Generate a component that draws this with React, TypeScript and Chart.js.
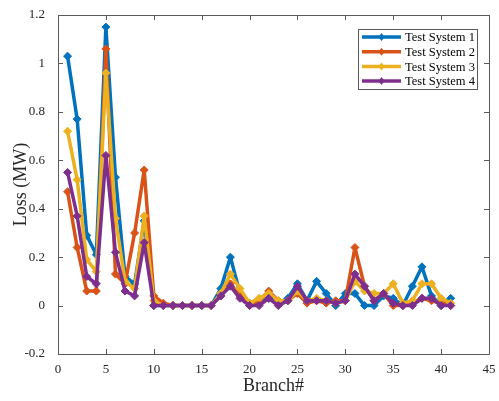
import React, { useEffect, useRef } from "react";
import { Chart, registerables } from "chart.js";

Chart.register(...registerables);

const branches = Array.from({ length: 41 }, (_, i) => i + 1);

const seriesNames = ["Test System 1", "Test System 2", "Test System 3", "Test System 4"];
const seriesColors = ["#0072BD", "#D95319", "#EDB120", "#7E2F8E"];

const system1 = [1.03, 0.77, 0.29, 0.21, 1.15, 0.53, 0.12, 0.09, 0.35, 0.0, 0, 0, 0, 0, 0, 0, 0.07, 0.2, 0.05, 0.01, 0.01, 0.03, 0.01, 0.03, 0.09, 0.02, 0.1, 0.05, 0.0, 0.05, 0.05, 0.0, 0.0, 0.04, 0.03, 0.0, 0.08, 0.16, 0.04, 0.0, 0.03];
const system2 = [0.47, 0.24, 0.06, 0.06, 1.06, 0.13, 0.09, 0.3, 0.56, 0.04, 0.01, 0, 0, 0, 0, 0, 0.04, 0.09, 0.04, 0.0, 0.02, 0.06, 0.02, 0.02, 0.05, 0.01, 0.02, 0.01, 0.02, 0.02, 0.24, 0.08, 0.02, 0.05, 0.0, 0.0, 0.01, 0.03, 0.02, 0.01, 0.0];
const system3 = [0.72, 0.52, 0.19, 0.14, 0.96, 0.36, 0.1, 0.07, 0.37, 0.02, 0, 0, 0, 0, 0, 0, 0.05, 0.13, 0.07, 0.01, 0.03, 0.05, 0.02, 0.02, 0.06, 0.02, 0.03, 0.02, 0.01, 0.02, 0.1, 0.06, 0.05, 0.05, 0.09, 0.01, 0.02, 0.09, 0.09, 0.03, 0.01];
const system4 = [0.55, 0.37, 0.12, 0.09, 0.62, 0.22, 0.06, 0.04, 0.26, 0.0, 0, 0, 0, 0, 0, 0, 0.04, 0.08, 0.03, 0.0, 0.0, 0.03, 0.0, 0.02, 0.08, 0.02, 0.02, 0.02, 0.01, 0.02, 0.13, 0.08, 0.02, 0.05, 0.01, 0.0, 0.0, 0.03, 0.03, 0.0, 0.0];

const allSeries = [system1, system2, system3, system4];

const xTicks = [0, 5, 10, 15, 20, 25, 30, 35, 40, 45];
const yTicks = [-0.2, 0, 0.2, 0.4, 0.6, 0.8, 1, 1.2];

const FONT = "'Times New Roman', 'Liberation Serif', serif";
const AXIS_COLOR = "#262626";

const boxPlugin = {
  id: "matlabBox",
  afterDraw(chart: any) {
    const { ctx, chartArea } = chart;
    const { left, right, top, bottom } = chartArea;
    const xs = chart.scales.x;
    const ys = chart.scales.y;
    ctx.save();
    ctx.strokeStyle = "#5a5a5a";
    ctx.lineWidth = 1;
    ctx.beginPath();
    ctx.rect(Math.round(left) + 0.5, Math.round(top) + 0.5, Math.round(right - left), Math.round(bottom - top));
    ctx.stroke();
    const tl = 5;
    ctx.beginPath();
    xTicks.forEach((t) => {
      const px = Math.round(xs.getPixelForValue(t)) + 0.5;
      ctx.moveTo(px, bottom);
      ctx.lineTo(px, bottom - tl);
      ctx.moveTo(px, top);
      ctx.lineTo(px, top + tl);
    });
    yTicks.forEach((t) => {
      const py = Math.round(ys.getPixelForValue(t)) + 0.5;
      ctx.moveTo(left, py);
      ctx.lineTo(left + tl, py);
      ctx.moveTo(right, py);
      ctx.lineTo(right - tl, py);
    });
    ctx.stroke();

    // legend
    const lx = 358, ly = 29, lw = 119, lh = 60;
    ctx.fillStyle = "#ffffff";
    ctx.fillRect(lx, ly, lw, lh);
    ctx.strokeStyle = "#5a5a5a";
    ctx.strokeRect(lx + 0.5, ly + 0.5, lw, lh);
    ctx.font = `12.5px ${FONT}`;
    ctx.textBaseline = "middle";
    ctx.textAlign = "left";
    chart.data.datasets.forEach((ds: any, i: number) => {
      const y = ly + 8 + i * 14.7;
      ctx.strokeStyle = ds.borderColor;
      ctx.lineWidth = 3.5;
      ctx.beginPath();
      ctx.moveTo(lx + 4, y);
      ctx.lineTo(lx + 43, y);
      ctx.stroke();
      const cx = lx + 23.5;
      ctx.fillStyle = ds.borderColor;
      ctx.beginPath();
      ctx.moveTo(cx, y - 4);
      ctx.lineTo(cx + 3, y);
      ctx.lineTo(cx, y + 4);
      ctx.lineTo(cx - 3, y);
      ctx.closePath();
      ctx.fill();
      ctx.fillStyle = "#000000";
      ctx.fillText(ds.label, lx + 47, y + 1);
    });
    ctx.restore();
  },
};

export default function App() {
  const ref = useRef<HTMLCanvasElement>(null);
  useEffect(() => {
    if (!ref.current) return;
    const chart = new Chart(ref.current, {
      type: "line",
      data: {
        datasets: allSeries.map((vals, i) => ({
          label: seriesNames[i],
          data: branches.map((b, j) => ({ x: b, y: vals[j] })),
          borderColor: seriesColors[i],
          backgroundColor: seriesColors[i],
          borderWidth: 3.5,
          borderJoinStyle: "round",
          pointStyle: "rectRot",
          pointRadius: 4,
          pointBorderWidth: 1,
          tension: 0,
          fill: false,
          order: 4 - i,
        })),
      },
      options: {
        responsive: false,
        animation: false,
        layout: { padding: { top: 15, right: 10, left: 0, bottom: 0 } },
        plugins: { legend: { display: false }, tooltip: { enabled: false } },
        scales: {
          x: {
            type: "linear",
            min: 0,
            max: 45,
            afterBuildTicks: (s: any) => {
              s.ticks = xTicks.map((v) => ({ value: v }));
            },
            afterFit: (s: any) => {
              s.height = 47;
            },
            grid: { display: false },
            border: { display: false },
            ticks: { color: AXIS_COLOR, font: { family: FONT, size: 13 }, padding: 0, maxRotation: 0 },
            title: {
              display: true,
              text: "Branch#",
              color: AXIS_COLOR,
              font: { family: FONT, size: 18 },
              padding: { top: 0, bottom: 4 },
            },
          },
          y: {
            type: "linear",
            min: -0.2,
            max: 1.2,
            afterBuildTicks: (s: any) => {
              s.ticks = yTicks.map((v) => ({ value: v }));
            },
            afterFit: (s: any) => {
              s.width = 58;
            },
            grid: { display: false },
            border: { display: false },
            ticks: {
              color: AXIS_COLOR,
              font: { family: FONT, size: 13 },
              padding: 5,
              callback: (v: any) => String(Number(Number(v).toFixed(1))),
            },
            title: {
              display: true,
              text: "Loss (MW)",
              color: AXIS_COLOR,
              font: { family: FONT, size: 18 },
              padding: { top: 10, bottom: 0 },
            },
          },
        },
      },
      plugins: [boxPlugin],
    } as any);
    return () => chart.destroy();
  }, []);
  return (
    <canvas
      ref={ref}
      width={499}
      height={401}
      style={{ position: "absolute", left: 0, top: 0, display: "block" }}
    />
  );
}
